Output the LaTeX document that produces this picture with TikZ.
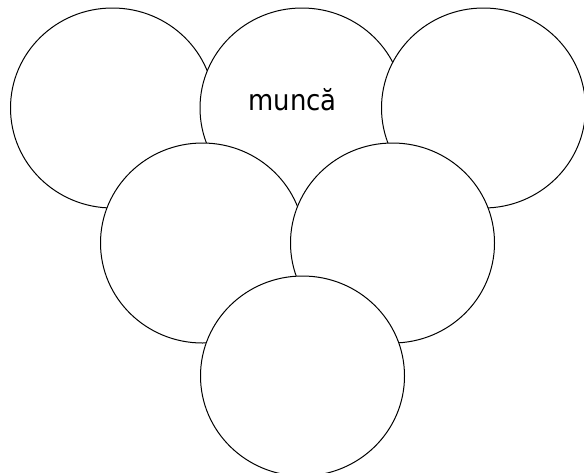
\documentclass[tikz,border=0pt]{standalone}
\usepackage{fontspec}
\setmainfont{DejaVu Sans Condensed}
\usetikzlibrary{shapes.geometric}
\begin{document}
\begin{tikzpicture}[x=0.75pt,y=-0.75pt,
  bubble/.style={ellipse,draw=black,fill=white,line width=0.75pt,inner sep=0pt,
    minimum width=153pt,minimum height=150pt}]
\useasboundingbox[fill=white] (0,0) rectangle (584,472);
\node[bubble] (c1) at (112.5,108) {};
\node[bubble] (c2) at (302,108) {};
\node[bubble] (c3) at (483.5,108) {};
\node[anchor=base,inner sep=0pt,font=\fontsize{21.6}{26}\selectfont] (t) at (292.5,110.5) {muncă};
\node[bubble] (c4) at (202.5,243) {};
\node[bubble] (c5) at (392.5,243) {};
\node[bubble] (c6) at (302.5,376) {};
\end{tikzpicture}
\end{document}
